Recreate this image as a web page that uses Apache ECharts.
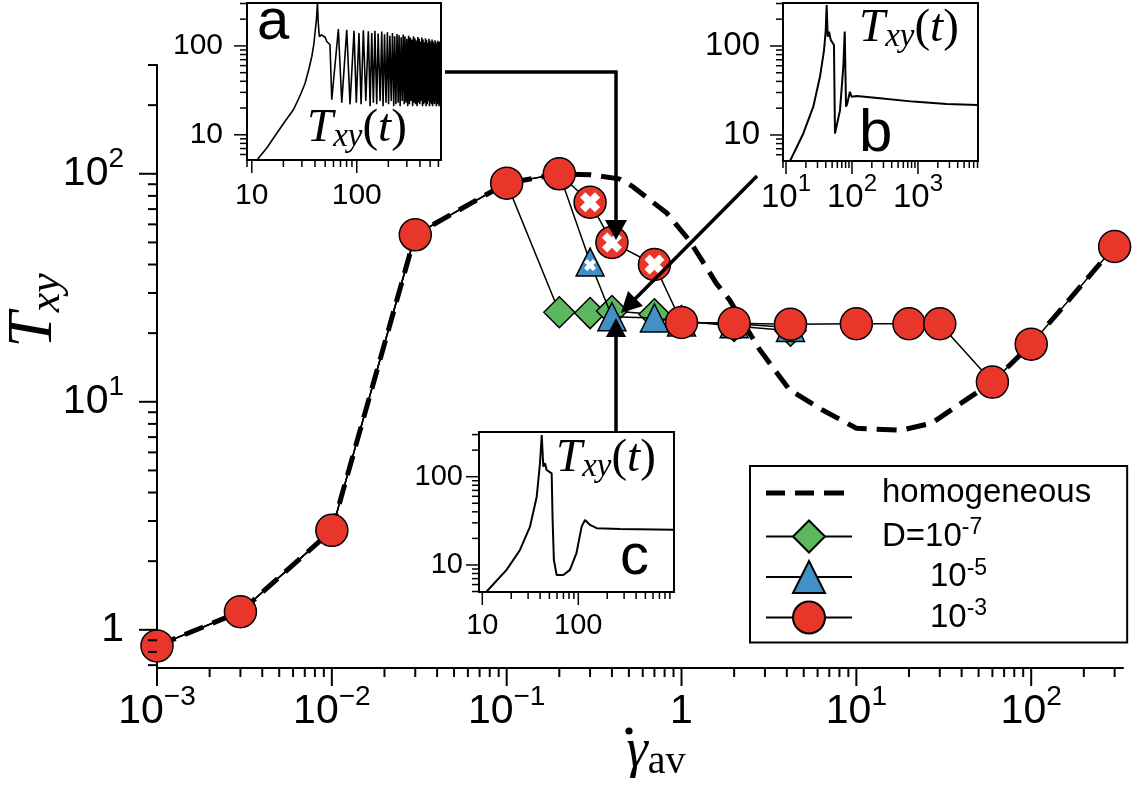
<!DOCTYPE html>
<html>
<head>
<meta charset="utf-8">
<script src="https://cdn.jsdelivr.net/npm/echarts@6.0.0/dist/echarts.min.js"></script>
<style>
html,body{margin:0;padding:0;background:#fff;}
#chart{width:1133px;height:786px;}
</style>
</head>
<body>
<div id="chart"></div>
<script>
// ================= MAIN PANEL DATA =================
// homogeneous (dashed)
const homX = [0.001, 0.003, 0.01, 0.03, 0.1, 0.2, 0.3, 0.44, 0.525, 0.656, 0.82, 1.11, 1.585, 1.88, 2.79, 4.14, 6.4, 10, 18, 27, 44, 60, 100, 300];
const homY = [0.85, 1.2, 2.73, 54, 91, 100, 99, 95, 88, 77, 67.5, 51, 33, 28, 17, 11.3, 9.2, 7.66, 7.5, 8.06, 10.4, 12.2, 17.9, 48];
// D = 1e-3 (red circles)
const d3X = [0.001, 0.003, 0.01, 0.03, 0.1, 0.2, 0.3, 0.4, 0.7, 1, 2, 4.2, 10, 20, 30, 60, 100, 300];
const d3Y = [0.85, 1.2, 2.73, 54, 91, 100, 75, 50, 40, 22.3, 22.1, 21.9, 22, 22, 22, 12.2, 17.9, 48];
// D = 1e-5 (blue triangles)
const d5X = [0.001, 0.003, 0.01, 0.03, 0.1, 0.2, 0.3, 0.4, 0.7, 1, 2, 4.2];
const d5Y = [0.85, 1.2, 2.73, 54, 91, 100, 41, 23.6, 23.3, 22.4, 22, 21.2];
// D = 1e-7 (green diamonds)
const d7X = [0.001, 0.003, 0.01, 0.03, 0.1, 0.2, 0.3, 0.4, 0.7, 1, 2, 4.2];
const d7Y = [0.85, 1.2, 2.73, 54, 91, 24.7, 24.5, 25, 24.2, 22.6, 21.5, 20.5];
// crossed (oscillating) states
const crossCircleX = [0.3, 0.4, 0.7];
const crossCircleY = [75, 50, 40];
const crossTriX = [0.3];
const crossTriY = [41];

// tick labels
const mainXTickVals = [0.001, 0.01, 0.1, 1, 10, 100];
const mainXTickLabels = ['10^\u22123', '10^\u22122', '10^\u22121', '1', '10^1', '10^2'];
const mainYTickVals = [1, 10, 100];
const mainYTickLabels = ['1', '10^1', '10^2'];
const legendNames = ['homogeneous', 'D7', 'D5', 'D3'];
const legendLabels = ['homogeneous', 'D=10^-7', '10^-5', '10^-3'];

// ================= INSET DATA =================
// inset a : T_xy(t) oscillating
const insetARiseT = [11.2, 14, 17.3, 21, 24.9, 29, 32.2, 35, 37.3, 39, 40, 41.3, 42.2, 43, 44, 46, 47.5, 50, 51.8, 55.6, 57.8];
const insetARiseV = [5.2, 7.2, 10.4, 14.5, 19.1, 28, 38, 55, 76, 105, 139, 200, 302, 180, 127, 133, 139, 125, 112, 103, 24.8];
const insetAPeakT = [66.8, 80.3, 94.2, 105, 115.6, 129, 139, 149, 160, 173, 184, 196, 207, 219, 230, 242, 253, 265, 277, 288, 300, 312, 323, 335, 347, 358, 370, 382, 393, 405, 417, 428, 440, 452, 463, 475, 487, 498, 510, 522, 533, 545, 557, 568, 580, 592, 603, 615, 627];
const insetAPeakV = [155, 152, 148, 140, 150, 146, 140, 148, 138, 145, 135, 142, 130, 140, 128, 136, 132, 125, 134, 128, 120, 130, 124, 118, 128, 122, 115, 126, 120, 112, 124, 118, 110, 122, 116, 108, 120, 114, 110, 118, 112, 106, 116, 110, 104, 114, 108, 112, 106];
const insetATroughT = [72, 86.3, 99, 110, 122, 134, 144, 155, 167, 178, 190, 201, 213, 225, 236, 248, 259, 271, 283, 294, 306, 318, 329, 341, 353, 364, 376, 388, 399, 411, 423, 434, 446, 458, 469, 481, 493, 504, 516, 528, 539, 551, 563, 574, 586, 598, 609, 621, 633];
const insetATroughV = [23, 22, 23, 22, 24, 21, 23, 22, 24, 21, 23, 22, 24, 21, 22, 23, 21, 24, 22, 23, 21, 22, 24, 21, 23, 22, 21, 23, 22, 24, 21, 22, 23, 21, 22, 24, 21, 23, 22, 21, 23, 22, 24, 21, 22, 23, 21, 22, 23];
// inset b
const insetBT = [11.5, 18.3, 25.9, 32.7, 37.7, 40, 41.3, 42.8, 44.9, 47.6, 53.3, 55.2, 58.6, 65.8, 73.9, 77.6, 81.2, 85, 93, 98.7, 117.7, 266, 847, 2724, 8070];
const insetBV = [5.1, 10.4, 20.8, 45, 90, 150, 289, 127, 145, 117, 102.6, 10.4, 10, 19, 58.5, 145, 20.8, 22.7, 30.6, 26.9, 27.4, 25.8, 23.7, 22.3, 21.7];
// inset c
const insetCT = [11.1, 17.9, 24.7, 31.4, 36.9, 39.9, 41.6, 43.2, 45, 46.8, 52.8, 54, 55.7, 59.5, 69.9, 81.8, 95.7, 108.3, 117.4, 132.5, 155.5, 272, 979];
const insetCV = [5, 8.8, 14.8, 27.2, 59.4, 142, 297, 130, 142, 119, 109, 32.3, 11.4, 7.7, 7.7, 8.8, 13.6, 27.2, 32.3, 28.4, 26.1, 25.6, 25];
const insetATickVals = [10, 100];
const insetATickLabels = ['10', '100'];
const insetBXTickVals = [10, 100, 1000];
const insetBXTickLabels = ['10^1', '10^2', '10^3'];
const insetYTickVals = [10, 100];
const insetYTickLabels = ['10', '100'];

// ================= helpers =================
const SANS = '"Liberation Sans", Arial, Helvetica, sans-serif';
const SERIF = '"Liberation Serif", "Times New Roman", serif';
const RED = '#e8362a', BLUE = '#4190c6', GREEN = '#5cb85c';

const zip = (xs, ys) => xs.map((x, i) => [x, ys[i]]);
function supRich(label) {
  const i = label.indexOf('^');
  return i < 0 ? '{b|' + label + '}' : '{b|' + label.slice(0, i) + '}{s|' + label.slice(i + 1) + '}';
}
function makeFormatter(vals, labels) {
  return function (v) {
    for (let i = 0; i < vals.length; i++) {
      if (Math.abs(Math.log10(v) - Math.log10(vals[i])) < 1e-6) return supRich(labels[i]);
    }
    return '';
  };
}
function labelRich(base, sup, lh) {
  return {
    b: { fontFamily: SANS, fontSize: base, lineHeight: lh, color: '#000', verticalAlign: 'middle' },
    s: { fontFamily: SANS, fontSize: sup, lineHeight: sup, color: '#000', verticalAlign: 'top' }
  };
}
function minorTicks(min, max) {
  const out = [];
  for (let e = Math.floor(Math.log10(min)); e <= Math.ceil(Math.log10(max)); e++) {
    for (let m = 2; m <= 9; m++) {
      const v = m * Math.pow(10, e);
      if (v >= min * 0.999 && v <= max * 1.001) out.push(v);
    }
  }
  return out;
}
function buildTicks(ext, xMajor, yMajor, majLen, minLen) {
  const t = [];
  xMajor.forEach(v => t.push([v, ext.y[0], 0, majLen]));
  minorTicks(ext.x[0], ext.x[1]).forEach(v => t.push([v, ext.y[0], 0, minLen]));
  yMajor.forEach(v => t.push([ext.x[0], v, 1, majLen]));
  minorTicks(ext.y[0], ext.y[1]).forEach(v => t.push([ext.x[0], v, 1, minLen]));
  return t;
}
function tickSeries(gi, ticks, w) {
  return {
    type: 'custom', xAxisIndex: gi, yAxisIndex: gi, clip: false, silent: true, z: 8,
    dimensions: ['x', 'y', 'o', 'l'], encode: { x: 0, y: 1 },
    data: ticks,
    renderItem: function (params, api) {
      const p = api.coord([api.value(0), api.value(1)]);
      const o = api.value(2), L = api.value(3);
      const shape = o === 0 ? { x1: p[0], y1: p[1], x2: p[0], y2: p[1] + L }
                            : { x1: p[0], y1: p[1], x2: p[0] - L, y2: p[1] };
      return { type: 'line', shape: shape, style: { stroke: '#000', lineWidth: w } };
    }
  };
}
function markerData(xs, ys) {
  return xs.map((x, i) => {
    const shared = d3X.some((rx, j) => rx === x && d3Y[j] === ys[i]);
    return shared ? { value: [x, ys[i]], symbol: 'none' } : [x, ys[i]];
  });
}
function legendFmt(name) {
  const i = legendNames.indexOf(name);
  const lab = legendLabels[i];
  const k = lab.indexOf('^');
  let s = '{g| }' + (i >= 2 ? '{p| }' : '');
  s += k < 0 ? '{b|' + lab + '}' : '{b|' + lab.slice(0, k) + '}{s|' + lab.slice(k + 1) + '}';
  return s;
}

// inset a data table
const insetAData = zip(insetARiseT, insetARiseV);
for (let i = 0; i < insetAPeakT.length; i++) {
  insetAData.push([insetAPeakT[i], insetAPeakV[i]]);
  insetAData.push([insetATroughT[i], insetATroughV[i]]);
}

// axis extents
const extMain = { x: [0.001, 335], y: [0.68, 300] };
const extA = { x: [9, 635], y: [5.2, 304] };
const extB = { x: [9, 8130], y: [5.1, 304] };
const extC = { x: [9.24, 993], y: [4.94, 321] };

function insetAxisX(gi, ext, vals, labels, rich, margin) {
  return {
    gridIndex: gi, type: 'log', logBase: 10, min: ext.x[0], max: ext.x[1],
    axisLine: { show: false }, axisTick: { show: false }, minorTick: { show: false },
    splitLine: { show: false }, minorSplitLine: { show: false },
    axisLabel: { formatter: makeFormatter(vals, labels), margin: margin, rich: rich, hideOverlap: false }
  };
}
function insetAxisY(gi, ext, rich, margin) {
  return {
    gridIndex: gi, type: 'log', logBase: 10, min: ext.y[0], max: ext.y[1],
    axisLine: { show: false }, axisTick: { show: false }, minorTick: { show: false },
    splitLine: { show: false }, minorSplitLine: { show: false },
    axisLabel: { formatter: makeFormatter(insetYTickVals, insetYTickLabels), margin: margin, rich: rich, hideOverlap: false }
  };
}

const insetGrid = { show: true, backgroundColor: '#fff', borderColor: '#000', borderWidth: 2, outerBoundsMode: 'none', containLabel: false };

const tRich = {
  T: { fontFamily: SERIF, fontStyle: 'italic', fontSize: 47, lineHeight: 50, verticalAlign: 'middle', color: '#000' },
  s: { fontFamily: SERIF, fontStyle: 'italic', fontSize: 33, lineHeight: 33, verticalAlign: 'bottom', color: '#000' },
  p: { fontFamily: SERIF, fontSize: 47, lineHeight: 50, verticalAlign: 'middle', color: '#000' }
};
const tText = '{T|T}{s|xy}{p|(}{T|t}{p|)}';

const XPATH = 'path://M0,2.6L2.6,0L5,2.4L7.4,0L10,2.6L7.6,5L10,7.4L7.4,10L5,7.6L2.6,10L0,7.4L2.4,5Z';
// dashed legend sample (thin invisible bars fix the 86x40 box)
const DASH_ICON = 'path://M0,0L86,0L86,0.01L0,0.01Z M0,39.99L86,39.99L86,40L0,40Z M0,17.5L19,17.5L19,22.5L0,22.5Z M29,17.5L48,17.5L48,22.5L29,22.5Z M58,17.5L78,17.5L78,22.5L58,22.5Z';

const option = {
  animation: false,
  backgroundColor: '#fff',
  grid: [
    { left: 157, top: 65, width: 966, height: 603, show: false, outerBoundsMode: 'none', containLabel: false },
    Object.assign({ left: 247, top: 3, width: 194, height: 157 }, insetGrid),
    Object.assign({ left: 783, top: 3, width: 195, height: 158 }, insetGrid),
    Object.assign({ left: 479, top: 432, width: 195, height: 160 }, insetGrid)
  ],
  xAxis: [
    {
      gridIndex: 0, type: 'log', logBase: 10, min: extMain.x[0], max: extMain.x[1],
      axisLine: { show: true, onZero: false, lineStyle: { color: '#000', width: 2 } },
      axisTick: { show: false }, minorTick: { show: false }, splitLine: { show: false }, minorSplitLine: { show: false },
      axisLabel: { formatter: makeFormatter(mainXTickVals, mainXTickLabels), margin: 15, rich: labelRich(41, 28, 58), hideOverlap: false },
      name: '{g|\u03B3}{a|av}', nameLocation: 'middle', nameGap: 54, nameMoveOverlap: false,
      nameTextStyle: {
        padding: [0, 0, 0, 32],
        rich: {
          g: { fontFamily: SERIF, fontStyle: 'italic', fontSize: 54, lineHeight: 60, verticalAlign: 'middle', color: '#000' },
          a: { fontFamily: SERIF, fontSize: 40, lineHeight: 40, verticalAlign: 'bottom', color: '#000' }
        }
      }
    },
    insetAxisX(1, extA, insetATickVals, insetATickLabels, labelRich(30, 21, 30), 21),
    insetAxisX(2, extB, insetBXTickVals, insetBXTickLabels, labelRich(33, 24, 51), 11),
    insetAxisX(3, extC, insetATickVals, insetATickLabels, labelRich(29, 20, 29), 19)
  ],
  yAxis: [
    {
      gridIndex: 0, type: 'log', logBase: 10, min: extMain.y[0], max: extMain.y[1],
      axisLine: { show: true, onZero: false, lineStyle: { color: '#000', width: 2 } },
      axisTick: { show: false }, minorTick: { show: false }, splitLine: { show: false }, minorSplitLine: { show: false },
      axisLabel: { formatter: makeFormatter(mainYTickVals, mainYTickLabels), margin: 33, rich: labelRich(41, 28, 58), hideOverlap: false },
      name: '{T|T}{s|xy}', nameLocation: 'middle', nameGap: 88, nameMoveOverlap: false,
      nameTextStyle: {
        padding: [0, 0, 0, 112],
        rich: {
          T: { fontFamily: SERIF, fontStyle: 'italic', fontSize: 64, lineHeight: 70, verticalAlign: 'middle', color: '#000' },
          s: { fontFamily: SERIF, fontStyle: 'italic', fontSize: 44, lineHeight: 44, verticalAlign: 'bottom', color: '#000' }
        }
      }
    },
    insetAxisY(1, extA, labelRich(30, 21, 30), 24),
    insetAxisY(2, extB, labelRich(33, 24, 33), 23),
    insetAxisY(3, extC, labelRich(29, 20, 29), 16)
  ],
  legend: {
    data: [
      { name: legendNames[0], icon: DASH_ICON },
      legendNames[1], legendNames[2], legendNames[3]
    ],
    orient: 'vertical', left: 750, top: 466,
    itemWidth: 86, itemHeight: 40, itemGap: 3.5, padding: [7, 36, 8, 15],
    borderColor: '#000', borderWidth: 2, borderRadius: 0, backgroundColor: '#fff',
    selectedMode: false, symbolKeepAspect: false,
    formatter: legendFmt,
    textStyle: {
      color: '#000',
      rich: {
        g: { width: 25 },
        p: { width: 48 },
        b: { fontFamily: SANS, fontSize: 33, lineHeight: 40, verticalAlign: 'middle', color: '#000' },
        s: { fontFamily: SANS, fontSize: 23, lineHeight: 23, verticalAlign: 'top', color: '#000' }
      }
    }
  },
  series: [
    {
      name: 'homogeneous', type: 'line', xAxisIndex: 0, yAxisIndex: 0, data: zip(homX, homY),
      symbol: 'none', lineStyle: { color: '#000', width: 5, type: [20, 10] }, itemStyle: { color: '#000' }, z: 2, silent: true
    },
    {
      name: 'D7', type: 'line', xAxisIndex: 0, yAxisIndex: 0, data: markerData(d7X, d7Y),
      symbol: 'diamond', symbolSize: 31, showAllSymbol: true,
      itemStyle: { color: GREEN, borderColor: '#000', borderWidth: 1.5, opacity: 1 },
      lineStyle: { color: '#000', width: 1.5 }, z: 3, silent: true
    },
    {
      name: 'D5', type: 'line', xAxisIndex: 0, yAxisIndex: 0, data: markerData(d5X, d5Y),
      symbol: 'triangle', symbolSize: 28, showAllSymbol: true,
      itemStyle: { color: BLUE, borderColor: '#000', borderWidth: 1.5, opacity: 1 },
      lineStyle: { color: '#000', width: 1.5 }, z: 4, silent: true
    },
    {
      name: 'D3', type: 'line', xAxisIndex: 0, yAxisIndex: 0, data: zip(d3X, d3Y),
      symbol: 'circle', symbolSize: 32, showAllSymbol: true,
      itemStyle: { color: RED, borderColor: '#000', borderWidth: 1.5, opacity: 1 },
      lineStyle: { color: '#000', width: 1.5 }, z: 5, silent: true
    },
    {
      name: 'crossC', type: 'scatter', xAxisIndex: 0, yAxisIndex: 0, data: zip(crossCircleX, crossCircleY),
      symbol: XPATH, symbolSize: 20, itemStyle: { color: '#fff', opacity: 1 }, z: 6, silent: true
    },
    {
      name: 'crossT', type: 'scatter', xAxisIndex: 0, yAxisIndex: 0, data: zip(crossTriX, crossTriY),
      symbol: XPATH, symbolSize: 12, symbolOffset: [0, 3], itemStyle: { color: '#fff', opacity: 1 }, z: 6, silent: true
    },
    { name: 'insetA', type: 'line', xAxisIndex: 1, yAxisIndex: 1, data: insetAData, symbol: 'none', lineStyle: { color: '#000', width: 1.6 }, z: 3, silent: true },
    { name: 'insetB', type: 'line', xAxisIndex: 2, yAxisIndex: 2, data: zip(insetBT, insetBV), symbol: 'none', lineStyle: { color: '#000', width: 2 }, z: 3, silent: true },
    { name: 'insetC', type: 'line', xAxisIndex: 3, yAxisIndex: 3, data: zip(insetCT, insetCV), symbol: 'none', lineStyle: { color: '#000', width: 2 }, z: 3, silent: true },
    tickSeries(0, buildTicks(extMain, mainXTickVals, mainYTickVals, 18, 9), 2),
    tickSeries(1, buildTicks(extA, insetATickVals, insetYTickVals, 13, 7), 1.5),
    tickSeries(2, buildTicks(extB, insetBXTickVals, insetYTickVals, 13, 7), 1.5),
    tickSeries(3, buildTicks(extC, insetATickVals, insetYTickVals, 13, 7), 1.5)
  ],
  graphic: [
    // arrow from inset a
    { type: 'polyline', shape: { points: [[445, 72], [616, 72], [616, 222]] }, style: { stroke: '#000', lineWidth: 3.5, fill: null }, z: 100, silent: true },
    { type: 'polygon', shape: { points: [[605, 220], [627, 220], [616, 240]] }, style: { fill: '#000' }, z: 100, silent: true },
    // arrow from inset c
    { type: 'line', shape: { x1: 616, y1: 432, x2: 616, y2: 336 }, style: { stroke: '#000', lineWidth: 3.5 }, z: 100, silent: true },
    { type: 'polygon', shape: { points: [[606, 337], [626, 337], [616, 318]] }, style: { fill: '#000' }, z: 100, silent: true },
    // arrow from inset b
    { type: 'line', shape: { x1: 757, y1: 176, x2: 635, y2: 299 }, style: { stroke: '#000', lineWidth: 3.5 }, z: 100, silent: true },
    { type: 'polygon', shape: { points: [[643, 306], [628, 291], [621, 313]] }, style: { fill: '#000' }, z: 100, silent: true },
    // dot of the gamma-dot axis title
    { type: 'circle', shape: { cx: 629, cy: 731, r: 3.6 }, style: { fill: '#000' }, z: 100, silent: true },
    // panel letters
    { type: 'text', x: 257, y: 23, style: { text: 'a', fontSize: 58, fontFamily: SANS, fill: '#000', align: 'left', verticalAlign: 'middle', textAlign: 'left', textVerticalAlign: 'middle' }, z: 100, silent: true },
    { type: 'text', x: 859, y: 134, style: { text: 'b', fontSize: 60, fontFamily: SANS, fill: '#000', align: 'left', verticalAlign: 'middle', textAlign: 'left', textVerticalAlign: 'middle' }, z: 100, silent: true },
    { type: 'text', x: 620, y: 558, style: { text: 'c', fontSize: 58, fontFamily: SANS, fill: '#000', align: 'left', verticalAlign: 'middle', textAlign: 'left', textVerticalAlign: 'middle' }, z: 100, silent: true },
    // T_xy(t) labels
    { type: 'text', x: 307, y: 129, style: { text: tText, rich: tRich, fill: '#000', align: 'left', verticalAlign: 'middle', textAlign: 'left', textVerticalAlign: 'middle' }, z: 100, silent: true },
    { type: 'text', x: 859, y: 29, style: { text: tText, rich: tRich, fill: '#000', align: 'left', verticalAlign: 'middle', textAlign: 'left', textVerticalAlign: 'middle' }, z: 100, silent: true },
    { type: 'text', x: 556, y: 459, style: { text: tText, rich: tRich, fill: '#000', align: 'left', verticalAlign: 'middle', textAlign: 'left', textVerticalAlign: 'middle' }, z: 100, silent: true }
  ]
};

const chart = echarts.init(document.getElementById('chart'), null, { renderer: 'canvas' });
chart.setOption(option);
</script>
</body>
</html>
